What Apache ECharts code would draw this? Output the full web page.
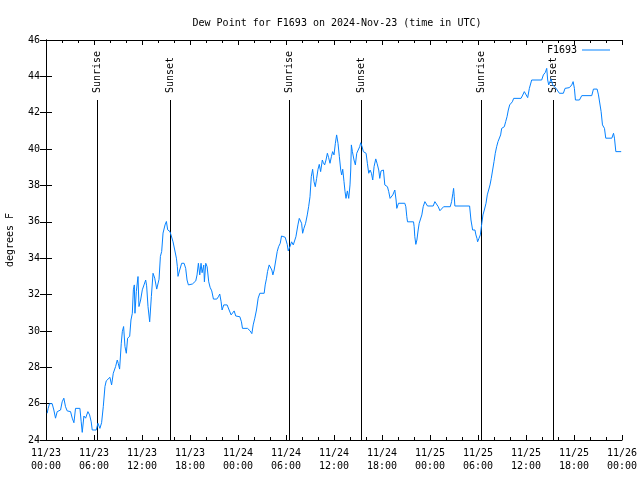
<!DOCTYPE html>
<html>
<head>
<meta charset="utf-8">
<script src="https://cdn.jsdelivr.net/npm/echarts@6/dist/echarts.min.js"></script>
<style>html,body{margin:0;padding:0;background:#fff}#c{width:640px;height:480px}</style>
</head>
<body>
<div id="c"></div>
<script>
// Hours since 2024-11-23 00:00 UTC
const hours = [
0.15,0.27,0.44,0.77,0.98,1.19,1.40,1.82,2.02,2.23,2.44,2.65,3.07,3.28,3.49,3.69,4.24,4.40,4.53,4.74,4.95,5.24,5.45,5.65,5.78,6.28,6.49,6.74,6.95,7.16,7.37,7.53,7.99,8.20,8.41,8.70,8.91,9.04,9.20,9.41,9.54,9.70,9.87,10.04,10.20,10.46,10.62,10.79,10.92,11.04,11.12,11.29,11.50,11.62,11.83,12.04,12.25,12.46,12.58,12.75,12.96,13.17,13.38,13.59,13.84,14.13,14.30,14.46,14.63,14.88,15.05,15.21,15.38,
15.50,15.71,15.88,16.09,16.30,16.42,16.50,16.71,16.96,17.26,17.46,17.63,17.80,17.97,18.30,18.72,18.88,19.05,19.22,19.38,19.51,19.72,19.80,19.97,20.14,20.34,20.51,20.72,20.93,21.35,21.55,21.72,21.89,22.01,22.22,22.64,22.89,23.14,23.31,23.52,23.72,24.23,24.43,24.56,25.19,25.52,25.73,25.90,26.10,26.31,26.52,26.73,27.27,27.40,27.57,27.69,27.90,28.07,28.23,28.36,28.52,28.73,28.90,29.07,29.28,29.44,29.69,29.90,
30.16,30.28,30.49,30.70,30.91,31.08,31.24,31.49,31.66,31.83,31.95,32.08,32.24,32.45,32.66,32.83,33.00,33.16,33.33,33.50,33.66,33.83,34.00,34.16,34.33,34.54,34.67,34.83,35.00,35.17,35.33,35.50,35.67,35.83,36.00,36.17,36.33,36.50,36.67,36.84,36.96,37.09,37.25,37.38,37.50,37.67,37.84,38.00,38.09,38.17,38.30,38.50,38.67,38.84,39.05,39.21,39.34,39.51,39.67,39.84,40.01,40.17,40.34,40.51,40.68,40.84,41.01,41.22,41.38,41.59,41.72,41.88,42.18,42.35,42.51,42.68,42.84,43.01,43.18,43.35,43.60,43.76,43.85,44.06,44.85,
44.98,45.10,45.19,45.94,46.02,46.10,46.23,46.36,46.52,46.65,46.86,46.98,47.15,47.36,47.52,47.69,48.40,48.61,48.82,49.03,49.24,49.44,49.70,50.53,50.70,50.86,50.95,51.03,51.11,52.95,53.12,53.33,53.62,53.74,53.87,53.95,54.12,54.29,54.45,54.62,54.79,55.00,55.16,55.33,55.50,55.66,55.83,56.00,56.16,56.33,56.50,56.67,56.83,56.96,57.12,57.29,57.46,57.63,57.79,57.96,58.13,58.29,58.46,59.38,59.59,
59.79,60.00,60.21,60.42,60.71,61.96,62.17,62.42,62.59,62.71,62.84,63.05,63.13,63.34,63.55,63.76,64.17,64.67,64.88,65.42,65.72,65.89,66.05,66.18,66.68,66.97,68.22,68.43,68.89,69.06,69.39,69.56,69.81,69.97,70.73,70.94,71.06,71.23,71.90
];
const dewPoint = [
25.47,25.74,26.0,26.0,25.65,25.2,25.56,25.65,26.1,26.3,25.83,25.6,25.56,25.2,24.95,25.74,25.74,25.0,24.42,25.32,25.2,25.56,25.38,25.0,24.55,24.55,24.92,24.64,24.95,25.83,26.94,27.25,27.45,27.03,27.67,28.04,28.4,28.2,27.9,29.32,29.96,30.24,29.14,28.77,29.6,29.7,30.6,30.97,32.26,32.53,30.97,32.17,32.99,31.34,31.7,32.26,32.53,32.8,32.48,31.34,30.5,31.9,33.17,32.9,32.3,32.84,34.1,34.37,35.38,35.83,36.02,35.56,35.52,
35.46,35.37,34.9,34.45,34.0,33.53,33.0,33.35,33.72,33.72,33.44,32.8,32.53,32.43,32.58,32.75,33.08,33.72,33.08,33.72,33.2,33.62,32.7,33.72,33.53,32.7,32.4,32.2,31.75,31.75,31.88,32.03,31.6,31.15,31.43,31.43,31.15,30.88,30.78,31.1,30.82,30.78,30.5,30.14,30.14,30.0,29.85,30.33,30.7,31.15,31.8,32.07,32.07,32.53,32.9,33.26,33.63,33.72,33.35,33.08,33.35,33.44,34.36,34.63,34.82,35.22,35.33,35.15,
34.75,34.4,34.63,34.9,34.73,34.82,35.18,35.83,36.19,36.28,35.92,35.37,35.64,35.92,36.38,36.83,37.38,38.48,38.89,38.21,37.93,38.39,38.89,39.16,38.76,39.4,39.25,39.13,39.4,39.77,39.53,39.22,39.58,39.86,39.68,40.32,40.78,40.32,39.58,38.85,38.58,38.89,38.21,37.66,37.29,37.7,37.29,38.03,38.85,40.23,39.86,39.4,39.13,39.77,39.86,40.13,40.35,40.13,39.86,39.9,39.77,39.22,38.67,38.85,38.67,38.3,39.04,39.46,39.22,38.85,38.39,38.8,38.85,38.03,38.12,37.93,37.66,37.29,37.2,37.48,37.75,37.2,36.74,37.02,37.02,
36.83,36.28,36.0,36.0,35.73,35.18,34.76,35.0,35.55,35.92,36.0,36.38,36.83,37.11,37.11,36.87,36.87,37.11,37.2,36.83,36.61,36.65,36.83,36.83,37.11,37.57,37.84,37.38,36.87,36.87,36.1,35.55,35.55,35.28,35.09,34.9,35.09,35.28,35.83,36.38,36.65,37.02,37.48,37.75,38.03,38.39,38.85,39.31,39.77,40.13,40.41,40.5,40.78,41.14,41.05,41.23,41.51,41.78,42.15,42.43,42.33,42.6,42.79,42.79,42.97,
43.16,43.1,42.83,43.34,43.8,43.8,44.08,44.22,44.44,43.8,43.53,43.62,43.86,43.53,43.44,43.34,43.07,43.07,43.34,43.38,43.53,43.71,43.34,42.7,42.7,42.94,42.94,43.3,43.3,42.98,42.06,41.33,41.14,40.6,40.6,40.87,40.6,39.86,39.86
];
// Sunrise / sunset events (hours since start)
const sunTimes = [6.33, 15.53, 30.37, 39.41, 54.41, 63.41];
const sunLabels = ["Sunrise", "Sunset", "Sunrise", "Sunset", "Sunrise", "Sunset"];
const seriesName = "F1693";
const titleText = "Dew Point for F1693 on 2024-Nov-23 (time in UTC)";
const yName = "degrees F";
const startMonth = 11, startDay = 23;
const Y_MIN = 24, Y_MAX = 46, Y_STEP = 2;
const X_MIN = 0, X_MAX = 72, X_STEP = 6;

const FONT = '"DejaVu Sans Mono", monospace';
const chart = echarts.init(document.getElementById('c'), null, {renderer: 'canvas'});

function pad(n){ return (n < 10 ? '0' : '') + n; }
function xLabel(v){
  const d = startDay + Math.floor(v / 24);
  const h = Math.round(v % 24);
  return pad(startMonth) + '/' + pad(d) + '\n' + pad(h) + ':00';
}

const lineData = hours.map((h, i) => [h, dewPoint[i]]);
const sunData = sunTimes.map((t, i) => [t, i]);

const axisCommon = {
  axisLine: {show: true, lineStyle: {color: '#000', width: 1}},
  splitLine: {show: false}
};

chart.setOption({
  animation: false,
  backgroundColor: '#fff',
  title: {
    text: titleText, left: 332, top: 13, textAlign: 'center',
    textStyle: {fontFamily: FONT, fontSize: 10, fontWeight: 'normal', color: '#000'}
  },
  legend: {
    data: [seriesName], right: 30, top: 45, align: 'right', padding: 0,
    icon: 'rect', itemWidth: 28, itemHeight: 1, itemGap: 5,
    textStyle: {fontFamily: FONT, fontSize: 10, color: '#000'}
  },
  grid: {left: 46, right: 18, top: 40, bottom: 40, containLabel: false, outerBoundsMode: 'none'},
  xAxis: [
    Object.assign({}, axisCommon, {
      type: 'value', position: 'bottom', min: X_MIN, max: X_MAX, interval: X_STEP,
      axisTick: {show: true, inside: true, length: 5, lineStyle: {color: '#000'}},
      minorTick: {show: true, splitNumber: 3, length: 3, lineStyle: {color: '#000'}},
      minorSplitLine: {show: false},
      axisLabel: {formatter: xLabel, fontFamily: FONT, fontSize: 10, color: '#000', lineHeight: 13, margin: 7}
    }),
    Object.assign({}, axisCommon, {
      type: 'value', position: 'top', min: X_MIN, max: X_MAX, interval: X_STEP,
      axisTick: {show: true, inside: true, length: 5, lineStyle: {color: '#000'}},
      minorTick: {show: true, splitNumber: 3, length: 3, lineStyle: {color: '#000'}},
      minorSplitLine: {show: false},
      axisLabel: {show: false}
    })
  ],
  yAxis: [
    Object.assign({}, axisCommon, {
      type: 'value', position: 'left', min: Y_MIN, max: Y_MAX, interval: Y_STEP,
      axisTick: {show: true, inside: true, length: 6, lineStyle: {color: '#000'}},
      axisLabel: {fontFamily: FONT, fontSize: 10, color: '#000', margin: 6},
      name: yName, nameLocation: 'middle', nameRotate: 90, nameGap: 31,
      nameTextStyle: {fontFamily: FONT, fontSize: 10, color: '#000'}
    }),
    Object.assign({}, axisCommon, {
      type: 'value', position: 'right', min: Y_MIN, max: Y_MAX, interval: Y_STEP,
      axisTick: {show: true, inside: true, length: 6, lineStyle: {color: '#000'}},
      axisLabel: {show: false}
    })
  ],
  series: [
    {
      name: seriesName, type: 'line', xAxisIndex: 0, yAxisIndex: 0,
      data: lineData, showSymbol: false, symbol: 'none',
      lineStyle: {color: '#0582ff', width: 1}, itemStyle: {color: '#0582ff'},
      z: 3
    },
    {
      name: 'sun', type: 'custom', xAxisIndex: 0, yAxisIndex: 0,
      data: sunData, z: 2,
      renderItem: function (params, api) {
        const t = api.value(0);
        const idx = api.value(1);
        const p0 = api.coord([t, Y_MIN]);
        const p1 = api.coord([t, Y_MIN + 0.85 * (Y_MAX - Y_MIN)]);
        const x = Math.round(p0[0]) + 0.5;
        return {
          type: 'group',
          children: [
            {type: 'line', shape: {x1: x, y1: p0[1], x2: x, y2: p1[1]},
             style: {stroke: '#000', lineWidth: 1}},
            {type: 'text', x: x, y: p1[1] - 7, rotation: Math.PI / 2,
             style: {text: sunLabels[idx], x: 0, y: 0, align: 'left', verticalAlign: 'middle',
                     textAlign: 'left', textVerticalAlign: 'middle',
                     font: '10px ' + FONT, fill: '#000'}}
          ]
        };
      }
    }
  ]
});
</script>
</body>
</html>
